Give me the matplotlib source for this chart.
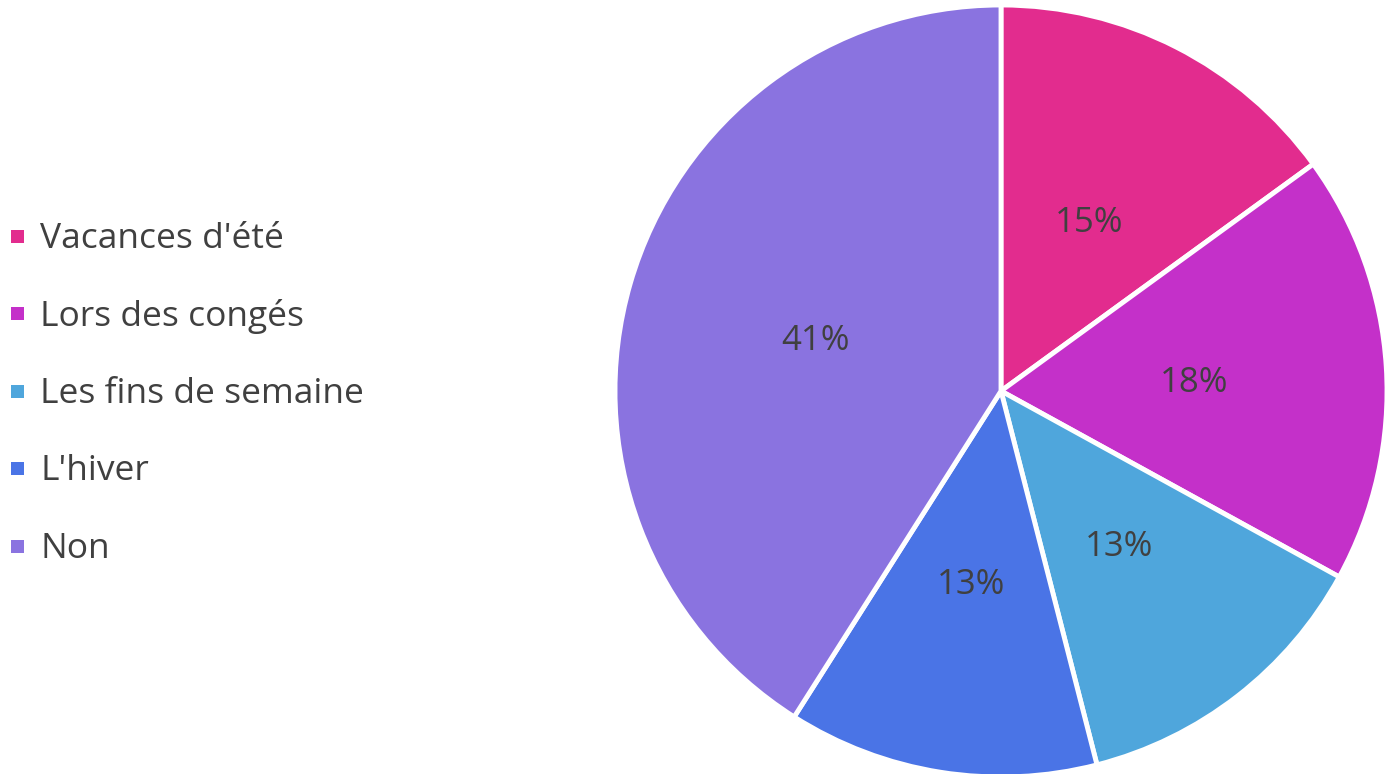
import matplotlib
matplotlib.use("Agg")
import matplotlib.pyplot as plt
from matplotlib.patches import Rectangle

categories = ["Vacances d'été", "Lors des congés", "Les fins de semaine", "L'hiver", "Non"]
values = [15, 18, 13, 13, 41]
colors = ["#E22C8E", "#C430C9", "#4FA6DC", "#4A74E6", "#8A73E0"]

plt.rcParams['font.family'] = ['Open Sans', 'DejaVu Sans']
W, H = 1388, 774
fig = plt.figure(figsize=(W / 100, H / 100), dpi=100)
fig.patch.set_facecolor("white")

cx, cy, r = 1001, 391, 386
ax = fig.add_axes([(cx - r) / W, (H - cy - r) / H, 2 * r / W, 2 * r / H])
wedges, texts, autotexts = ax.pie(
    values, colors=colors, startangle=90, counterclock=False,
    autopct=lambda p: f"{p:.0f}%", pctdistance=0.5,
    wedgeprops=dict(edgecolor="white", linewidth=3.5),
    textprops=dict(color="#404040", fontsize=25),
)
for t in autotexts:
    x, y = t.get_position()
    t.set_position((x, y - 0.01))
ax.set_xlim(-1, 1)
ax.set_ylim(-1, 1)
ax.set_aspect("equal")
ax.axis("off")

# legend
y0, dy = 236, 77.5
for i, (lab, col) in enumerate(zip(categories, colors)):
    y = y0 + i * dy
    fig.patches.append(Rectangle((11 / W, (H - y - 6.5) / H), 13 / W, 13 / H,
                                 transform=fig.transFigure, facecolor=col,
                                 edgecolor="none"))
    fig.text(40 / W, (H - y - 3) / H, lab, fontsize=25.5, color="#404040",
             va="center", ha="left")

fig.savefig("out.png", dpi=100)
